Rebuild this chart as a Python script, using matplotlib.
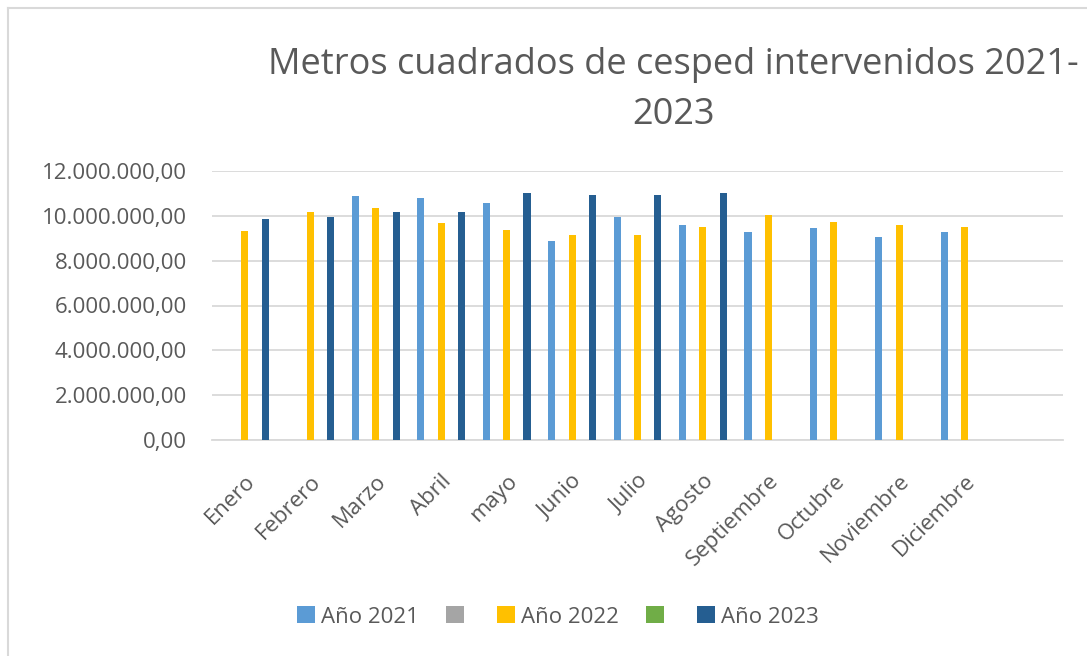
import numpy as np
import matplotlib
matplotlib.use("Agg")
import matplotlib.pyplot as plt
from matplotlib.lines import Line2D
from matplotlib.ticker import FuncFormatter

# ── data ────────────────────────────────────────────────────────────────────
meses = ["Enero", "Febrero", "Marzo", "Abril", "mayo", "Junio", "Julio",
         "Agosto", "Septiembre", "Octubre", "Noviembre", "Diciembre"]

nan = np.nan
anio_2021 = [nan, nan, 10.87e6, 10.81e6, 10.56e6, 8.87e6, 9.97e6,
             9.58e6, 9.27e6, 9.45e6, 9.07e6, 9.27e6]
serie_gris = [nan] * 12
anio_2022 = [9.33e6, 10.16e6, 10.36e6, 9.66e6, 9.39e6, 9.14e6, 9.14e6,
             9.52e6, 10.04e6, 9.72e6, 9.58e6, 9.52e6]
serie_verde = [nan] * 12
anio_2023 = [9.85e6, 9.97e6, 10.16e6, 10.16e6, 11.0e6, 10.95e6, 10.95e6,
             11.0e6, nan, nan, nan, nan]

series = [
    ("Año 2021", anio_2021, "#5B9BD5"),
    ("", serie_gris, "#A5A5A5"),
    ("Año 2022", anio_2022, "#FFC000"),
    ("", serie_verde, "#70AD47"),
    ("Año 2023", anio_2023, "#255E91"),
]

TEXT = "#595959"
GRID = "#D9D9D9"
FONT = "Open Sans"

fig = plt.figure(figsize=(10.87, 6.56), dpi=100)
W, H = 1087, 656
ax = fig.add_axes([212 / W, 1 - 440 / H, (1063 - 212) / W, (440 - 171) / H])

x = np.arange(len(meses))
slot = 0.156
width = 0.107
handles = []
for k, (label, vals, color) in enumerate(series):
    b = ax.bar(x + (k - 2) * slot, np.array(vals, dtype=float), width,
               color=color, label=label, zorder=3)
    handles.append(b)

ax.set_xlim(-0.5, 12.5)
ax.set_ylim(0, 12e6)
ax.set_yticks(np.arange(0, 12e6 + 1, 2e6))
ax.yaxis.set_major_formatter(FuncFormatter(
    lambda v, _: f"{v:,.2f}".replace(",", "X").replace(".", ",").replace("X", ".")))
ax.grid(axis="y", color=GRID, lw=1.3, zorder=0)
for s in ["top", "right", "left"]:
    ax.spines[s].set_visible(False)
ax.spines["bottom"].set_color(GRID)
ax.spines["bottom"].set_linewidth(1.3)
ax.tick_params(axis="both", length=0, colors=TEXT, labelsize=16)
ax.tick_params(axis="y", pad=18)
for t in ax.get_yticklabels():
    t.set_fontfamily(FONT)

ax.set_xticks(x)
ax.set_xticklabels(meses, rotation=45, ha="right", va="top",
                   rotation_mode="anchor", fontfamily=FONT, fontsize=16,
                   color=TEXT)
ax.tick_params(axis="x", pad=22)

# title
fig.text(673 / W, 1 - 65 / H, "Metros cuadrados de cesped intervenidos 2021-",
         ha="center", va="center", fontsize=26, color=TEXT, fontfamily=FONT)
fig.text(673 / W, 1 - 115 / H, "2023",
         ha="center", va="center", fontsize=26, color=TEXT, fontfamily=FONT)

# legend
leg = fig.legend(handles=handles, labels=[s[0] for s in series],
                 loc="center", bbox_to_anchor=(558 / W, 1 - 617 / H),
                 ncol=5, frameon=False, handlelength=0.8, handleheight=0.8,
                 handletextpad=0.3, columnspacing=1.2,
                 prop={"family": FONT, "size": 16})
for t in leg.get_texts():
    t.set_color(TEXT)

# chart frame (left and top edges visible)
fig.add_artist(Line2D([8 / W, 8 / W], [0, 1 - 8 / H], color=GRID, lw=1.5))
fig.add_artist(Line2D([8 / W, 1], [1 - 8 / H, 1 - 8 / H], color=GRID, lw=1.5))

fig.savefig("out.png", dpi=100, facecolor="white")
